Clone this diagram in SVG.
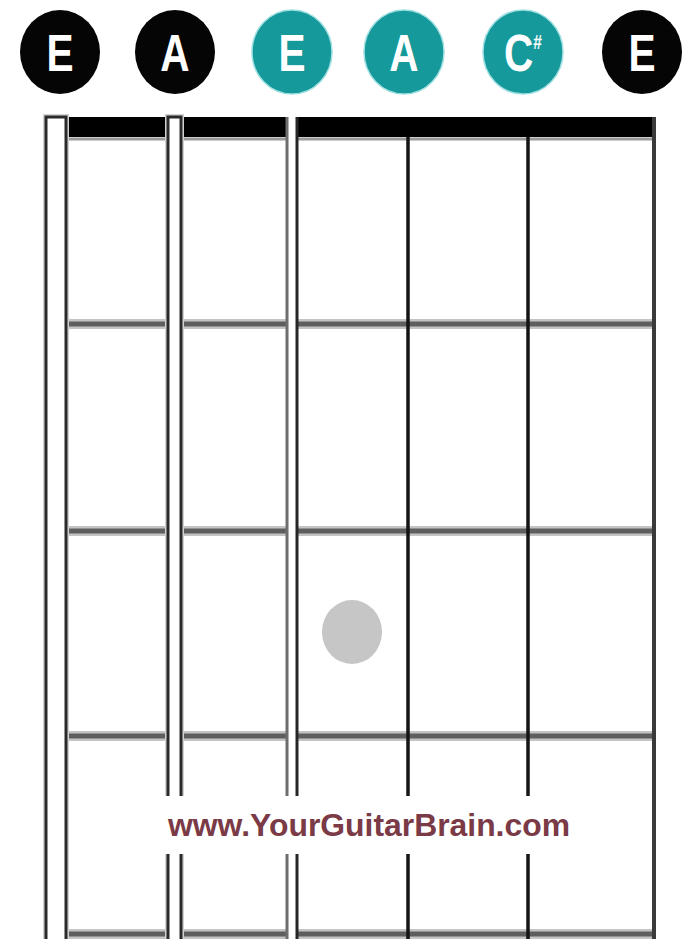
<svg xmlns="http://www.w3.org/2000/svg" width="686" height="939" viewBox="0 0 686 939">
<style>
.open{fill:#050505}
.teal{fill:#15999b;stroke:#9edfe2;stroke-width:1.5}
.lbl{font-family:"Liberation Sans",Arial,sans-serif;font-weight:bold;font-size:52px;fill:#ffffff;text-anchor:middle}
.fret{stroke:#5e5e5e;stroke-width:5}
.frethalo{stroke:#c4c4c4;stroke-width:10}
.str{fill:#ffffff;stroke:#2a2a2a;stroke-width:3}
.halo{fill:none;stroke:#d2d2d2;stroke-width:6}
.thin{stroke:#141414;stroke-width:3.5}
.wm{font-family:"Liberation Sans",Arial,sans-serif;font-weight:bold;font-size:32px;fill:#7a3a46;text-anchor:middle}
</style>
<rect width="686" height="939" fill="#ffffff"/>
<g id="notes">
<g id="note-1"><ellipse class="open" cx="60" cy="52" rx="40" ry="42"/><text class="lbl" transform="translate(60 71) scale(0.78 1)">E</text></g>
<g id="note-2"><ellipse class="open" cx="175" cy="52" rx="40" ry="42"/><text class="lbl" transform="translate(175 71) scale(0.78 1)">A</text></g>
<g id="note-3"><ellipse class="teal" cx="292" cy="52" rx="40" ry="42"/><text class="lbl" transform="translate(292 71) scale(0.78 1)">E</text></g>
<g id="note-4"><ellipse class="teal" cx="404" cy="52" rx="40" ry="42"/><text class="lbl" transform="translate(404 71) scale(0.78 1)">A</text></g>
<g id="note-5"><ellipse class="teal" cx="523" cy="52" rx="40" ry="42"/><text class="lbl" transform="translate(523 71) scale(0.78 1)">C<tspan font-size="20" dy="-22">#</tspan></text></g>
<g id="note-6"><ellipse class="open" cx="642" cy="52" rx="40" ry="42"/><text class="lbl" transform="translate(642 71) scale(0.78 1)">E</text></g>
</g>
<g id="fretboard">
<rect x="67" y="117" width="588" height="20" fill="#000000"/>
<line x1="67" y1="139" x2="655" y2="139" stroke="#9a9a9a" stroke-width="3"/>
<g id="frets">
<line class="frethalo" x1="67" y1="324" x2="655" y2="324"/>
<line class="fret" x1="67" y1="324" x2="655" y2="324"/>
<line class="frethalo" x1="67" y1="531" x2="655" y2="531"/>
<line class="fret" x1="67" y1="531" x2="655" y2="531"/>
<line class="frethalo" x1="67" y1="736" x2="655" y2="736"/>
<line class="fret" x1="67" y1="736" x2="655" y2="736"/>
<line class="frethalo" x1="45" y1="934" x2="655" y2="934"/>
<line class="fret" x1="45" y1="934" x2="655" y2="934"/>
</g>
<g id="strings">
<rect class="halo" x="46" y="117" width="20" height="830"/>
<rect class="str" x="46" y="117" width="20" height="830"/>
<rect class="halo" x="168" y="117" width="13" height="830"/>
<rect class="str" x="168" y="117" width="13" height="830"/>
<rect x="287" y="117" width="10" height="830" fill="#ffffff"/>
<line x1="287" y1="117" x2="287" y2="939" stroke="#6e6e6e" stroke-width="3"/>
<line x1="297" y1="117" x2="297" y2="939" stroke="#262626" stroke-width="3"/>
<line class="thin" x1="408" y1="137" x2="408" y2="939"/>
<line class="thin" x1="528" y1="137" x2="528" y2="939"/>
<line x1="654" y1="117" x2="654" y2="939" stroke="#3a3a3a" stroke-width="4"/>
</g>
</g>
<g id="finger-dot"><ellipse cx="352" cy="632" rx="30" ry="32" fill="#c6c6c6"/></g>
<g id="watermark">
<rect x="150" y="796" width="440" height="58" fill="#ffffff"/>
<text class="wm" x="369" y="836" textLength="402" lengthAdjust="spacingAndGlyphs">www.YourGuitarBrain.com</text>
</g>
</svg>
